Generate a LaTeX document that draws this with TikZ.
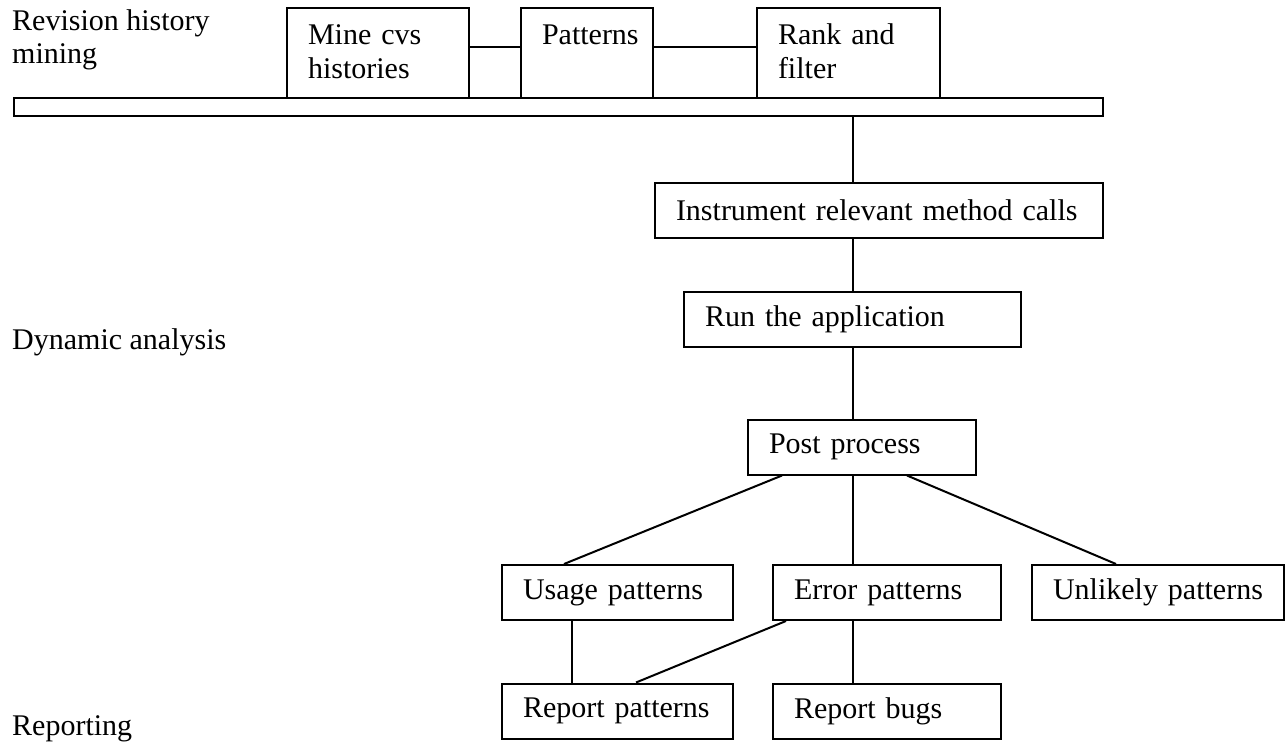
\documentclass[tikz,border=0pt]{standalone}
\usepackage{fontspec}
\setmainfont{Liberation Serif}

\begin{document}
\begin{tikzpicture}[x=1pt, y=-1pt,
  font=\fontsize{30}{33}\selectfont,
  box/.style={draw, line width=2pt, align=left, inner xsep=21pt,
              inner ysep=0pt, minimum height=55pt},
  tall/.style={box, minimum height=90pt, text height=20pt,
               text depth=36pt},
  lbl/.style={inner sep=0pt, align=left},
  link/.style={line width=2pt}]
\useasboundingbox (0,0) rectangle (1286,744);
\node[lbl, anchor=north west] (lblrev) at (12,9) {Revision history\\mining};
\node[lbl, anchor=base west] (lbldyn) at (12,349) {Dynamic analysis};
\node[lbl, anchor=base west] (lblrep) at (12,735) {Reporting};
\node[tall, text width=140pt] (mine) at (378,53) {Mine cvs\\histories};
\node[tall, text width=90pt] (pat) at (587,53) {Patterns};
\node[tall, text width=141pt] (rank) at (848.5,53) {Rank and\\filter};
\node[draw, line width=2pt, inner sep=0pt, minimum width=1089pt,
      minimum height=18pt] (bar) at (558.5,107) {};
\coordinate (trunk) at (853,0);
\node[box, text width=406pt] (inst) at (879,210)
  {Instrument relevant method calls};
\node[box, text width=295pt] (run) at (852.5,319.5) {Run the application};
\node[box, text width=186pt] (post) at (862,447) {Post process};
\node[box, text width=189pt] (usage) at (617.5,592.5) {Usage patterns};
\node[box, text width=186pt] (error) at (887,592.5) {Error patterns};
\node[box, text width=210pt] (unlikely) at (1158,592.5) {Unlikely patterns};
\node[box, text width=189pt] (reppat) at (617.5,711) {Report patterns};
\node[box, text width=186pt] (repbug) at (887,711) {Report bugs};
\draw[link] ([yshift=6pt]mine.east) -- ([yshift=6pt]pat.west);
\draw[link] ([yshift=6pt]pat.east) -- ([yshift=6pt]rank.west);
\draw[link] (bar.south -| trunk) -- (inst.north -| trunk);
\draw[link] (inst.south -| trunk) -- (run.north -| trunk);
\draw[link] (run.south -| trunk) -- (post.north -| trunk);
\draw[link] ([xshift=35pt]post.south west) -- ([xshift=63pt]usage.north west);
\draw[link] (post.south -| trunk) -- (error.north -| trunk);
\draw[link] ([xshift=160pt]post.south west)
  -- ([xshift=85pt]unlikely.north west);
\draw[link] ([xshift=71pt]usage.south west) -- ([xshift=71pt]reppat.north west);
\draw[link] ([xshift=14pt]error.south west)
  -- ([xshift=135pt]reppat.north west);
\draw[link] (error.south -| trunk) -- (repbug.north -| trunk);
\end{tikzpicture}
\end{document}
